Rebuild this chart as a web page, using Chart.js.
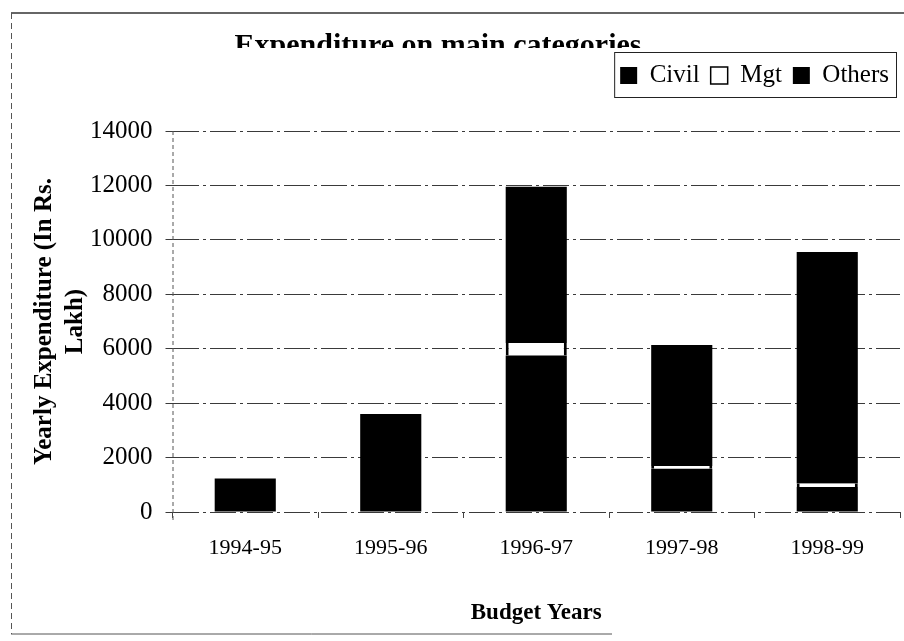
<!DOCTYPE html>
<html>
<head>
<meta charset="utf-8">
<script src="https://cdn.jsdelivr.net/npm/chart.js@4.4.1/dist/chart.umd.min.js"></script>
<style>
  html, body { margin: 0; padding: 0; background: #fff; }
</style>
</head>
<body>
<canvas id="chart" width="904" height="641"></canvas>
<script>
// values (Rs. Lakh)
const years = ['1994-95', '1995-96', '1996-97', '1997-98', '1998-99'];
const civil = [1230, 3600, 5750, 1590, 920];
const mgt = [0, 0, 460, 100, 130];
const others = [0, 0, 5740, 4450, 8500];
const yTicks = [0, 2000, 4000, 6000, 8000, 10000, 12000, 14000];

const serif = "'Liberation Serif', 'Times New Roman', serif";

// page frame, clipped heading, legend box and dashed y axis line
const decor = {
    id: 'decor',
    beforeDraw(chart) {
        const c = chart.ctx;
        c.save();
        c.fillStyle = '#fff';
        c.fillRect(0, 0, chart.width, chart.height);

        c.strokeStyle = '#333';
        c.lineWidth = 1.5;
        c.beginPath(); c.moveTo(11, 13); c.lineTo(chart.width, 13); c.stroke();
        c.lineWidth = 1;
        c.strokeStyle = '#555';
        c.beginPath(); c.moveTo(11, 634); c.lineTo(612, 634); c.stroke();
        c.setLineDash([6, 4]);
        c.beginPath(); c.moveTo(11.5, 13); c.lineTo(11.5, 634); c.stroke();
        c.setLineDash([]);

        // heading is cut off just above its baseline in the scan
        const lg = chart.legend;
        c.beginPath();
        c.rect(0, 0, chart.width, lg.top - 4);
        c.clip();
        c.fillStyle = '#000';
        c.font = 'bold 30px ' + serif;
        c.textAlign = 'center';
        c.textBaseline = 'alphabetic';
        c.fillText('Expenditure on main categories', 438, 54);
        c.restore();
    },
    beforeDatasetsDraw(chart) {
        const c = chart.ctx;
        const a = chart.chartArea;
        c.save();
        c.strokeStyle = '#555';
        c.lineWidth = 1;
        c.setLineDash([4, 3]);
        c.beginPath();
        c.moveTo(a.left + 0.5, a.top);
        c.lineTo(a.left + 0.5, a.bottom + 8);
        c.stroke();
        c.restore();
    },
    afterDraw(chart) {
        const c = chart.ctx;
        const lg = chart.legend;
        const hb = lg.legendHitBoxes;
        const last = hb[hb.length - 1];
        const l = hb[0].left - 6;
        const r = last.left + last.width + 7;
        c.save();
        c.strokeStyle = '#222';
        c.lineWidth = 1;
        c.strokeRect(l + 0.5, lg.top + 0.5, r - l, lg.height - 1);
        c.restore();
    }
};

new Chart(document.getElementById('chart'), {
    type: 'bar',
    data: {
        labels: years,
        datasets: [
            { label: 'Civil', data: civil, backgroundColor: '#000', borderWidth: 0 },
            {
                label: 'Mgt', data: mgt, backgroundColor: '#fff', borderColor: '#000',
                borderWidth: { left: 3, right: 3, top: 0, bottom: 0 }, borderSkipped: false
            },
            { label: 'Others', data: others, backgroundColor: '#000', borderWidth: 0 }
        ]
    },
    options: {
        responsive: false,
        animation: false,
        layout: { padding: { top: 52, left: 12, right: 4, bottom: 14 } },
        datasets: { bar: { barPercentage: 0.42, categoryPercentage: 1 } },
        plugins: {
            legend: {
                position: 'top',
                align: 'end',
                weight: 3000,
                labels: {
                    font: { family: serif, size: 25 },
                    color: '#000',
                    boxWidth: 17,
                    boxHeight: 17,
                    padding: 11
                }
            },
            // empty title only used as a spacer under the legend
            title: { display: true, text: '', font: { size: 10, lineHeight: 1 }, padding: { top: 23, bottom: 0 } },
            tooltip: { enabled: false }
        },
        scales: {
            x: {
                stacked: true,
                grid: { drawOnChartArea: false, drawTicks: true, tickLength: 6, color: '#444', offset: true },
                border: { display: false },
                ticks: { font: { family: serif, size: 22 }, color: '#000', padding: 17 },
                title: {
                    display: true,
                    text: 'Budget Years',
                    font: { family: serif, size: 23, weight: 'bold' },
                    color: '#000',
                    padding: { top: 21, bottom: 0 }
                }
            },
            y: {
                stacked: true,
                min: 0,
                max: 14000,
                afterBuildTicks: axis => { axis.ticks = yTicks.map(v => ({ value: v })); },
                afterFit: axis => { axis.width -= 14; },
                grid: { color: '#3a3a3a', lineWidth: 1, tickLength: 7 },
                border: { display: false, dash: [26, 4, 3, 4] },
                ticks: {
                    font: { family: serif, size: 25 },
                    color: '#000',
                    padding: 13,
                    callback: v => String(v)
                },
                title: {
                    display: true,
                    text: ['Yearly Expenditure (In Rs.', 'Lakh)'],
                    font: { family: serif, size: 25, weight: 'bold', lineHeight: 1.24 },
                    color: '#000',
                    padding: { top: 17, bottom: 0 }
                }
            }
        }
    },
    plugins: [decor]
});
</script>
</body>
</html>
